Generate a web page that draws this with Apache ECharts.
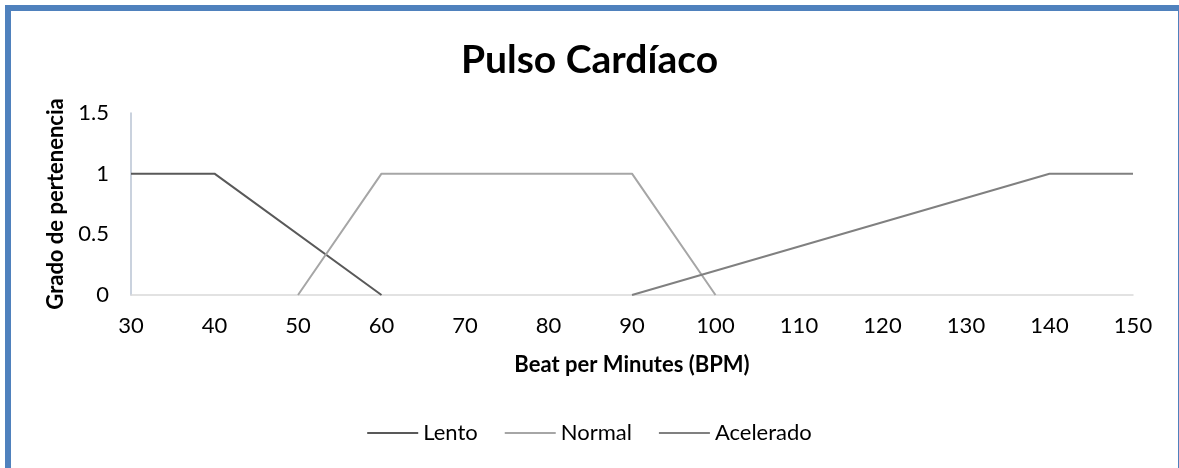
<!DOCTYPE html>
<html>
<head>
<meta charset="utf-8">
<script src="https://cdn.jsdelivr.net/npm/echarts@6/dist/echarts.min.js"></script>
<style>
  html, body { margin: 0; padding: 0; background: #fff; overflow: hidden; }
  #frame {
    position: absolute; left: 5px; top: 5px;
    width: 1167px; height: 520px;
    border: 6px solid #4f81bd; border-right-width: 2px;
  }
  #chart { position: absolute; left: 0; top: 0; width: 1179px; height: 468px; }
</style>
</head>
<body>
<div id="frame"></div>
<div id="chart"></div>
<script>
// datos de las funciones de pertenencia
const lento = [[30, 1], [40, 1], [60, 0]]
const normal = [[50, 0], [60, 1], [90, 1], [100, 0]]
const acelerado = [[90, 0], [140, 1], [150, 1]]
const seriesNames = ['Lento', 'Normal', 'Acelerado']
const colors = ['#595959', '#a6a6a6', '#808080']

const font = 'Lato, "Open Sans", sans-serif'
const myChart = echarts.init(document.getElementById('chart'))

const option = {
  animation: false,
  textStyle: { fontFamily: font },
  title: {
    text: 'Pulso Cardíaco',
    left: 'center',
    top: 36,
    textStyle: { fontSize: 39, fontWeight: 'bold', color: '#000', fontFamily: font }
  },
  legend: {
    bottom: 19,
    left: 'center',
    itemWidth: 51,
    itemHeight: 2,
    itemGap: 27,
    icon: 'rect',
    textStyle: { fontSize: 22, color: '#000', fontFamily: font },
    data: seriesNames
  },
  grid: { left: 131, right: 46, top: 113, bottom: 173 },
  xAxis: {
    type: 'value',
    min: 30, max: 150, interval: 10,
    name: 'Beat per Minutes (BPM)',
    nameLocation: 'middle',
    nameGap: 59,
    nameTextStyle: { fontSize: 22, fontWeight: 'bold', color: '#000' },
    axisLine: { show: true, lineStyle: { color: '#d9d9d9', width: 1.5 } },
    axisTick: { show: false },
    splitLine: { show: false },
    axisLabel: { fontSize: 22, color: '#000', margin: 20 }
  },
  yAxis: {
    type: 'value',
    min: 0, max: 1.5, interval: 0.5,
    name: 'Grado de pertenencia',
    nameLocation: 'middle',
    nameGap: 56,
    nameTextStyle: { fontSize: 22, fontWeight: 'bold', color: '#000' },
    axisLine: { show: true, lineStyle: { color: '#b9c3d3', width: 1.5 } },
    axisTick: { show: false },
    splitLine: { show: false },
    axisLabel: { fontSize: 22, color: '#000', margin: 22 }
  },
  series: [lento, normal, acelerado].map((d, i) => ({
    name: seriesNames[i],
    type: 'line',
    data: d,
    showSymbol: false,
    symbol: 'none',
    lineStyle: { color: colors[i], width: 2 },
    itemStyle: { color: colors[i] }
  }))
}

myChart.setOption(option)
</script>
</body>
</html>
